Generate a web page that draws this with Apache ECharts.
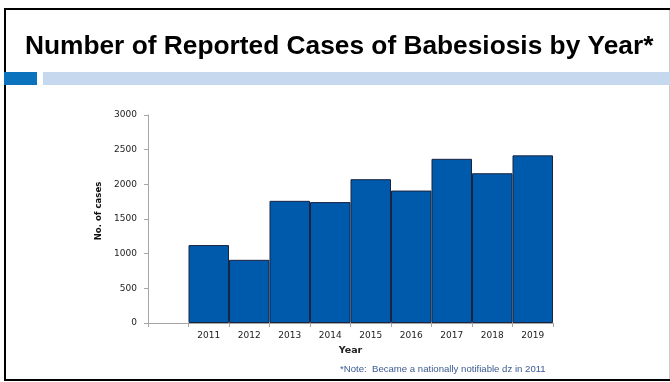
<!DOCTYPE html>
<html>
<head>
<meta charset="utf-8">
<script src="https://cdn.jsdelivr.net/npm/echarts@6/dist/echarts.min.js"></script>
<style>
  html, body { margin: 0; padding: 0; background: #fff; }
  #chart { width: 670px; height: 382px; }
</style>
</head>
<body>
<div id="chart"></div>
<script>
// first slot is an empty category, the axis starts one bar-width before 2011
const years = ['', '2011', '2012', '2013', '2014', '2015', '2016', '2017', '2018', '2019'];
const cases = [null, 1124, 911, 1762, 1744, 2074, 1910, 2368, 2160, 2418];
const yTicks = [0, 500, 1000, 1500, 2000, 2500, 3000];

const myChart = echarts.init(document.getElementById('chart'));

const option = {
  animation: false,
  backgroundColor: '#fff',
  title: {
    text: 'Number of Reported Cases of Babesiosis by Year*',
    left: 20,
    top: 29,
    textStyle: {
      fontFamily: 'Liberation Sans',
      fontWeight: 'bold',
      fontSize: 26.3,
      color: '#000'
    }
  },
  graphic: [
    // slide frame
    { type: 'rect', shape: { x: 5, y: 9, width: 680, height: 371 },
      style: { fill: 'none', stroke: '#000', lineWidth: 2 } },
    { type: 'line', shape: { x1: 669.5, y1: 10, x2: 669.5, y2: 379 },
      style: { stroke: '#ccc', lineWidth: 1 } },
    // header bars
    { type: 'rect', shape: { x: 4, y: 72, width: 33, height: 13 },
      style: { fill: '#0b72bd' } },
    { type: 'rect', shape: { x: 43, y: 72, width: 630, height: 13 },
      style: { fill: '#c5d8ee' } },
    // footnote
    { type: 'text', left: 340, top: 364,
      style: { text: '*Note:  Became a nationally notifiable dz in 2011',
        font: '9.6px "Liberation Sans"', fill: '#3a5a93' } }
  ],
  grid: {
    left: 148,
    right: 117,
    top: 115,
    bottom: 59
  },
  xAxis: {
    type: 'category',
    data: years,
    name: 'Year',
    nameLocation: 'middle',
    nameGap: 23,
    nameTextStyle: { fontFamily: 'DejaVu Sans', fontWeight: 'bold', fontSize: 9.5, color: '#222' },
    axisLine: { lineStyle: { color: '#a6a6a6', width: 1 } },
    axisTick: { show: true, length: 4, lineStyle: { color: '#a6a6a6' } },
    axisLabel: { fontFamily: 'DejaVu Sans', fontSize: 9, color: '#222', margin: 8 }
  },
  yAxis: {
    type: 'value',
    min: 0,
    max: yTicks[yTicks.length - 1],
    interval: 500,
    name: 'No. of cases',
    nameLocation: 'middle',
    nameGap: 40,
    nameRotate: 90,
    nameTextStyle: {
      fontFamily: 'DejaVu Sans Condensed', fontWeight: 'bold', fontSize: 9.5, color: '#111',
      padding: [0, 0, 0, 16]
    },
    axisLine: { show: true, lineStyle: { color: '#a6a6a6', width: 1 } },
    axisTick: { show: true, length: 4, lineStyle: { color: '#a6a6a6' } },
    splitLine: { show: false },
    axisLabel: {
      fontFamily: 'DejaVu Sans', fontSize: 9, color: '#222', margin: 11,
      formatter: (v) => String(v)
    }
  },
  series: [
    {
      name: 'Cases',
      type: 'bar',
      data: cases,
      barCategoryGap: 0,
      itemStyle: { color: '#005aab', borderColor: '#1a2440', borderWidth: 1 }
    }
  ]
};

myChart.setOption(option);
</script>
</body>
</html>
